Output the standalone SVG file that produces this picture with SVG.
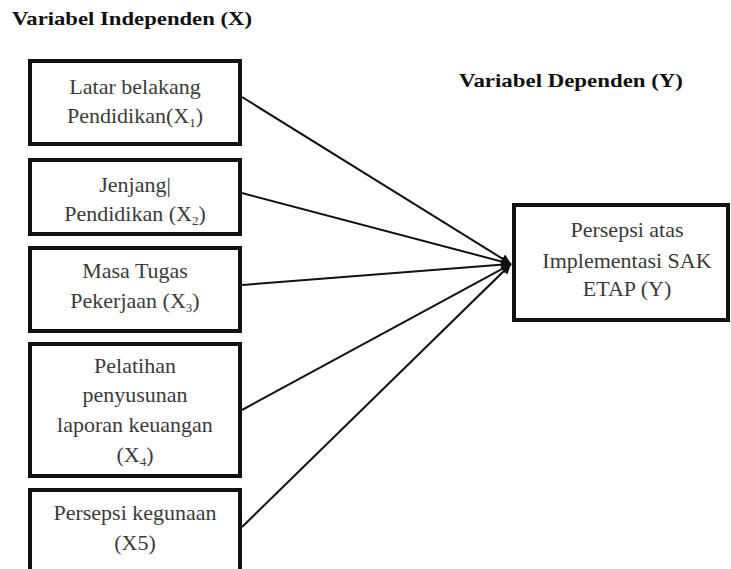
<svg xmlns="http://www.w3.org/2000/svg" width="731" height="569" viewBox="0 0 731 569">
<style>
.box{fill:#fff;stroke:#111;stroke-width:4}
.t{font-family:"Liberation Serif","Times New Roman",serif;font-size:22px;fill:#3a3a3a;text-anchor:middle}
.h{font-family:"Liberation Serif","Times New Roman",serif;font-size:19px;font-weight:bold;fill:#111}
.sub{font-size:13px}
.c{stroke:#111;stroke-width:2;fill:none;marker-end:url(#ah)}
</style>
<defs>
<marker id="ah" viewBox="0 0 10 10" refX="10" refY="5" markerWidth="5" markerHeight="5" orient="auto" markerUnits="strokeWidth">
<path d="M0,0 L10,5 L0,10 z" fill="#111"/>
</marker>
</defs>
<rect width="731" height="569" fill="#fff"/>
<text class="h" x="12" y="25" textLength="240" lengthAdjust="spacingAndGlyphs">Variabel Independen (X)</text>
<text class="h" x="459" y="87" textLength="224" lengthAdjust="spacingAndGlyphs">Variabel Dependen (Y)</text>
<g id="connectors">
<line class="c" x1="242" y1="97" x2="511" y2="264"/>
<line class="c" x1="242" y1="193" x2="511" y2="264"/>
<line class="c" x1="242" y1="285" x2="511" y2="264"/>
<line class="c" x1="242" y1="410" x2="511" y2="264"/>
<line class="c" x1="242" y1="527" x2="511" y2="264"/>
</g>
<g id="x1">
<rect class="box" x="30" y="61" width="210" height="83"/>
<text class="t" x="135" y="94">Latar belakang</text>
<text class="t" x="135" y="123">Pendidikan(X<tspan class="sub" dy="4">1</tspan><tspan dy="-4">)</tspan></text>
</g>
<g id="x2">
<rect class="box" x="30" y="160" width="210" height="74"/>
<text class="t" x="135" y="192">Jenjang|</text>
<text class="t" x="135" y="221">Pendidikan (X<tspan class="sub" dy="4">2</tspan><tspan dy="-4">)</tspan></text>
</g>
<g id="x3">
<rect class="box" x="30" y="248" width="210" height="83"/>
<text class="t" x="135" y="278">Masa Tugas</text>
<text class="t" x="135" y="308">Pekerjaan (X<tspan class="sub" dy="4">3</tspan><tspan dy="-4">)</tspan></text>
</g>
<g id="x4">
<rect class="box" x="30" y="344" width="210" height="132"/>
<text class="t" x="135" y="373">Pelatihan</text>
<text class="t" x="135" y="402">penyusunan</text>
<text class="t" x="135" y="432">laporan keuangan</text>
<text class="t" x="135" y="462">(X<tspan class="sub" dy="4">4</tspan><tspan dy="-4">)</tspan></text>
</g>
<g id="x5">
<rect class="box" x="30" y="490" width="210" height="90"/>
<text class="t" x="135" y="520">Persepsi kegunaan</text>
<text class="t" x="135" y="550">(X5)</text>
</g>
<g id="y">
<rect class="box" x="514" y="205" width="214" height="115"/>
<text class="t" x="627" y="237">Persepsi atas</text>
<text class="t" x="627" y="268">Implementasi SAK</text>
<text class="t" x="627" y="296">ETAP (Y)</text>
</g>
</svg>
